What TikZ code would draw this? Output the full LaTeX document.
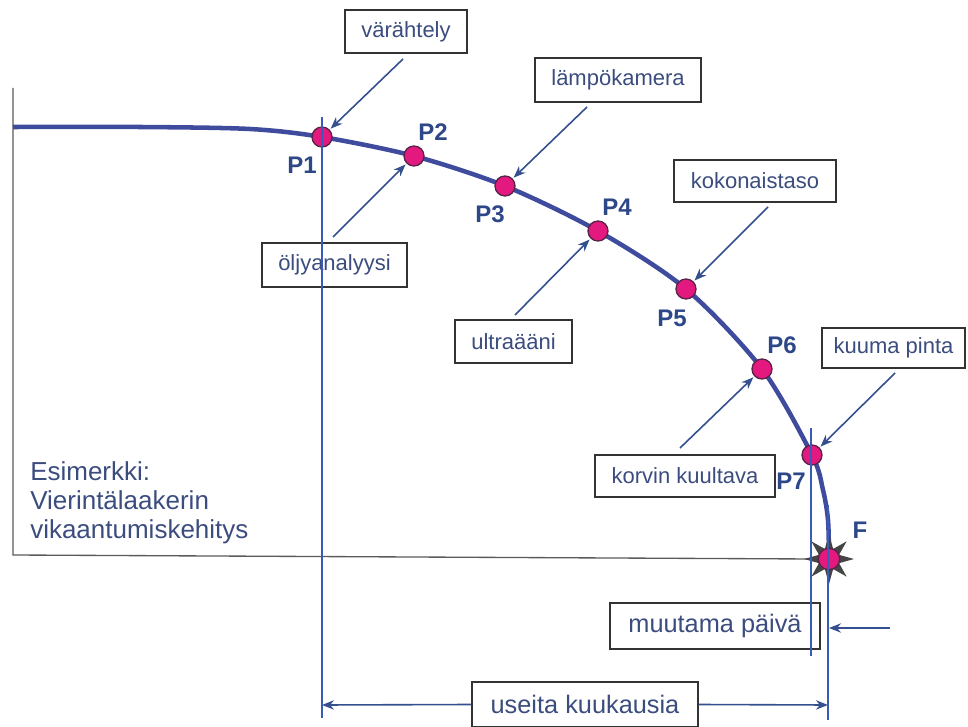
\documentclass[tikz,border=0pt]{standalone}
\usepackage{fontspec}
\setmainfont{Liberation Sans}
\usetikzlibrary{arrows.meta,shapes.geometric}
\definecolor{curveblue}{HTML}{3F4C9E}
\definecolor{lineblue}{HTML}{3A5BB5}
\definecolor{arrowblue}{HTML}{35508F}
\definecolor{labeltext}{HTML}{3B4C7E}
\definecolor{ptext}{HTML}{2E4788}
\definecolor{dotfill}{HTML}{E3197F}
\definecolor{dotedge}{HTML}{5A2448}
\definecolor{axisgray}{HTML}{5A5A5A}
\definecolor{stargray}{HTML}{454545}
\begin{document}
\begin{tikzpicture}[x=0.75pt,y=-0.75pt,
  box/.style={draw=black!80, line width=1pt, inner sep=0pt, text=labeltext,
    font=\fontsize{16.5}{19}\selectfont},
  bigbox/.style={box, font=\fontsize{19}{22}\selectfont},
  dot/.style={circle, fill=dotfill, draw=dotedge, line width=1pt,
    minimum size=15pt, inner sep=0pt},
  plabel/.style={text=ptext, inner sep=0pt, font=\fontsize{18}{20}\selectfont\bfseries},
  pointer/.style={draw=arrowblue, line width=1.2pt, -{Stealth[length=9pt,width=7pt]}},
  guide/.style={draw=lineblue, line width=1pt},
  axis/.style={draw=axisgray, line width=1pt},
  curve/.style={draw=curveblue, line width=3.4pt}
]
\useasboundingbox (0,0) rectangle (968,727);

% axes
\coordinate (ytop) at (13,88);
\coordinate (org) at (13,555);
\coordinate (xend) at (812,559);
\draw[axis] (ytop) -- (org) -- (xend);

% points on the degradation curve
\coordinate (s0) at (13,127);
\coordinate (s1) at (140,127);
\coordinate (s2) at (250,129);
\coordinate (c1) at (322,137);
\coordinate (c2) at (414,156);
\coordinate (c3) at (505,186);
\coordinate (c4) at (598,231);
\coordinate (c5) at (686,289);
\coordinate (c6) at (762,369);
\coordinate (c7) at (812,455);
\coordinate (s3) at (823,490);
\coordinate (s4) at (828,520);
\coordinate (cf) at (829,559);

\draw[curve] plot[smooth, tension=0.5] coordinates
  {(s0) (s1) (s2) (c1) (c2) (c3) (c4) (c5) (c6) (c7) (s3) (s4) (cf)};

% failure star
\node[star, star points=8, star point ratio=2.3, minimum size=37.5pt,
      inner sep=0pt, fill=stargray] (star) at (cf) {};
\node[dot, minimum size=16pt] (dF) at (cf) {};

% measurement points
\foreach \i in {1,...,7} \node[dot] (d\i) at (c\i) {};

% point labels
\node[plabel] (l1) at (302,165) {P1};
\node[plabel] (l2) at (433,132) {P2};
\node[plabel] (l3) at (490,214) {P3};
\node[plabel] (l4) at (617,207) {P4};
\node[plabel] (l5) at (672,318) {P5};
\node[plabel] (l6) at (782,345) {P6};
\node[plabel] (l7) at (791,481) {P7};
\node[plabel] (lF) at (860,530) {F};

% method boxes
\node[box, minimum width=91.5pt, minimum height=32.25pt] (b1) at (406,31.5) {värähtely};
\node[box, minimum width=108.75pt, minimum height=33pt] (b2) at (334.5,265) {öljyanalyysi};
\node[box, minimum width=124.5pt, minimum height=33pt] (b3) at (618,80) {lämpökamera};
\node[box, minimum width=87.75pt, minimum height=32.25pt] (b4) at (513.5,341.5) {ultraääni};
\node[box, minimum width=121.5pt, minimum height=31.5pt] (b5) at (755,181) {kokonaistaso};
\node[box, minimum width=135pt, minimum height=31.5pt] (b6) at (685,476) {korvin kuultava};
\node[box, minimum width=107.25pt, minimum height=30pt] (b7) at (893.5,348) {kuuma pinta};

% arrow tails
\coordinate (a1) at (403,59);
\coordinate (a2) at (333,237);
\coordinate (a3) at (587,107);
\coordinate (a4) at (515,315);
\coordinate (a5) at (768,207);
\coordinate (a6) at (680,448);
\coordinate (a7) at (895,373);
\foreach \i in {1,...,7} \draw[pointer, shorten >=1pt] (a\i) -- (d\i);

% example caption
\node[anchor=north west, align=left, text=labeltext, inner sep=0pt,
      font=\fontsize{19.5}{22}\selectfont] (cap) at (30,461)
  {Esimerkki:\\Vierintälaakerin\\vikaantumiskehitys};

% time span boxes
\node[bigbox, minimum width=157.5pt, minimum height=34.5pt] (days) at (715,626) {muutama päivä};
\node[bigbox, minimum width=169.5pt, minimum height=33.75pt] (months) at (585,704.5) {useita kuukausia};

% vertical guide lines
\coordinate (g1t) at (322,117);
\coordinate (g1b) at (322,718);
\coordinate (g2t) at (811,428);
\coordinate (g2b) at (811,656);
\coordinate (g3t) at (828,505);
\coordinate (g3b) at (828,720);
\draw[guide] (g1t) -- (g1b);
\draw[guide] (g2t) -- (g2b);
\draw[guide] (g3t) -- (g3b);

% span arrows
\coordinate (m1) at (322,705);
\coordinate (m2) at (828,705);
\draw[pointer] (months.west) -- (m1);
\draw[pointer] (months.east) -- (m2);
\coordinate (dtail) at (890,628);
\coordinate (dhead) at (829,628);
\draw[pointer] (dtail) -- (dhead);
\end{tikzpicture}
\end{document}
